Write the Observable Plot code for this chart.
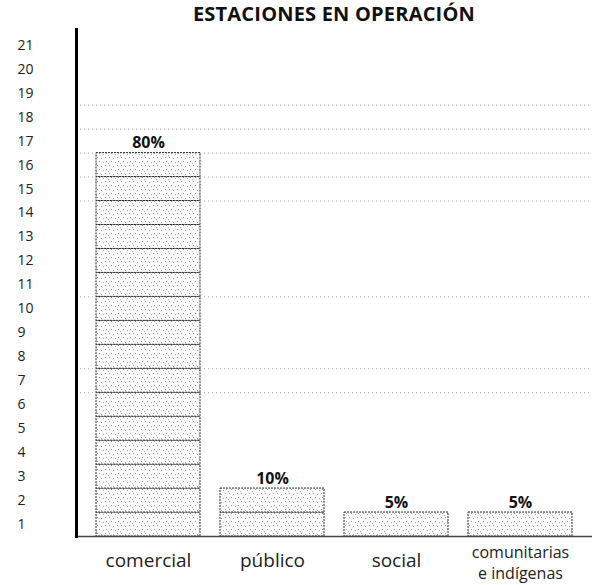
<!DOCTYPE html>
<html><head><meta charset="utf-8">
<script src="https://cdn.jsdelivr.net/npm/d3@7"></script>
<script src="https://cdn.jsdelivr.net/npm/@observablehq/plot@0.6"></script>
<style>
body{margin:0;background:#fff;font-family:"Open Sans",sans-serif;}
#title{height:28px;width:592px;position:relative;}
#title span{position:absolute;left:76px;right:0;text-align:center;top:0px;font-weight:700;font-size:20px;color:#111;letter-spacing:0.2px;line-height:27px;}
</style></head><body>
<div id="title"><span>ESTACIONES EN OPERACIÓN</span></div>
<div id="chart"></div>
<script>
const categories = ["comercial", "público", "social", "comunitarias\ne indígenas"];
const stations = [16, 2, 1, 1];
const percentLabels = ["80%", "10%", "5%", "5%"];
const yTickLabels = d3.range(1, 22);
const gridLevels = [6, 7, 10, 14, 15, 16, 17, 18];

const bars = categories.map((c, i) => ({cat: c, value: stations[i], pct: percentLabels[i]}));
const cells = [];
bars.forEach(b => { for (let k = 0; k < b.value; k++) cells.push({cat: b.cat, y1: k, y2: k + 1}); });

const plot = Plot.plot({
  width: 592,
  height: 557,
  marginLeft: 76,
  marginRight: 0,
  marginTop: 0,
  marginBottom: 49,
  style: {fontFamily: "Open Sans, sans-serif", background: "#fff"},
  x: {domain: categories, paddingInner: 0.16, paddingOuter: 0.16, label: null},
  y: {domain: [0, 21.2], label: null},
  marks: [
    Plot.ruleY(gridLevels, {stroke: "#777", strokeDasharray: "1,3", strokeWidth: 1, strokeOpacity: 0.7}),
    Plot.barY(cells, {x: "cat", y1: "y1", y2: "y2", fill: "url(#stip)", stroke: "#2a2a2a", strokeWidth: 1, strokeDasharray: "2,1"}),
    Plot.text(bars, {x: "cat", y: "value", text: "pct", dy: -5, lineAnchor: "bottom", fontWeight: "bold", fontSize: 16, fill: "#111"}),
    Plot.ruleY([0], {stroke: "#444", strokeWidth: 1.5}),
    Plot.frame({anchor: "left", stroke: "#000", strokeWidth: 3}),
    Plot.axisY(yTickLabels.map(k => k - 0.5), {tickFormat: d => String(Math.round(d + 0.5)), tickSize: 0, tickPadding: 59, textAnchor: "start", fontSize: 14, fill: "#222", label: null}),
    Plot.axisX(categories.slice(0, 3), {tickSize: 0, tickPadding: 24, lineAnchor: "middle", fontSize: 19, fill: "#222", label: null}),
    Plot.axisX(categories.slice(3), {tickSize: 0, tickPadding: 25, lineAnchor: "middle", lineHeight: 1.35, fontSize: 16, fill: "#222", label: null})
  ]
});

plot.insertAdjacentHTML("afterbegin",
  '<defs><pattern id="stip" patternUnits="userSpaceOnUse" width="12" height="8">' +
  '<rect width="12" height="8" fill="#fbfbfb"/>' +
  '<rect x="1" y="1" width="1" height="1" fill="#8a8a8a"/>' +
  '<rect x="5" y="2" width="1" height="1" fill="#a0a0a0"/>' +
  '<rect x="9" y="1" width="1" height="1" fill="#999"/>' +
  '<rect x="3" y="5" width="1" height="1" fill="#909090"/>' +
  '<rect x="7" y="6" width="1" height="1" fill="#aaa"/>' +
  '<rect x="10" y="5" width="1" height="1" fill="#8f8f8f"/>' +
  '<rect x="0" y="7" width="1" height="1" fill="#b0b0b0"/>' +
  '</pattern></defs>');
document.getElementById("chart").appendChild(plot);
</script>
</body></html>
